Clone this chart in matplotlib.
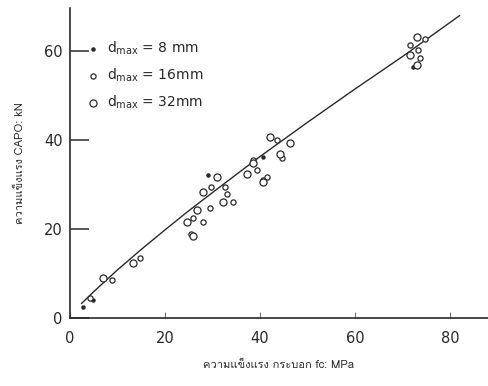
import matplotlib
matplotlib.use("Agg")
import matplotlib.pyplot as plt
from matplotlib import font_manager
from matplotlib.ft2font import FT2Font

# ---- data ----
fc_8 = [2.8, 4.9, 29.1, 40.7, 72.3]
capo_8 = [2.5, 4.0, 32.1, 36.2, 56.5]

fc_16 = [4.2, 8.8, 14.7, 25.5, 26.0, 28.0, 29.5, 29.8, 32.6, 34.4, 33.0, 39.3, 40.7, 43.5, 44.6, 38.6, 41.4, 71.6, 73.3, 73.7, 74.7]
capo_16 = [4.5, 8.5, 13.4, 19.0, 22.4, 21.6, 24.7, 29.5, 29.5, 26.1, 28.0, 33.3, 31.0, 40.0, 35.9, 35.5, 31.8, 61.3, 60.2, 58.4, 62.8]

fc_32 = [7.0, 13.3, 24.6, 25.9, 26.7, 28.0, 30.9, 32.3, 37.2, 38.6, 42.1, 44.2, 40.7, 46.3, 71.6, 73.0, 73.0]
capo_32 = [8.9, 12.3, 21.6, 18.5, 24.3, 28.4, 31.8, 26.1, 32.5, 34.8, 40.7, 37.0, 30.6, 39.3, 59.1, 63.2, 56.9]

curve_fc = [2.5, 5, 10, 15, 20, 25, 30, 40, 50, 60, 70, 82]
curve_capo = [3.3, 5.9, 10.8, 15.4, 19.8, 24.1, 28.2, 36.3, 44.0, 51.5, 58.8, 68.0]

x_ticks = [0, 20, 40, 60, 80]
y_ticks = [0, 20, 40, 60]
x_label = "ความแข็งแรง กระบอก fc: MPa"
y_label = "ความแข็งแรง CAPO: kN"
legend_labels = [r"d$_{\mathrm{max}}$ = 8 mm", r"d$_{\mathrm{max}}$ = 16mm", r"d$_{\mathrm{max}}$ = 32mm"]

# ---- find a font with Thai glyphs ----
thai_family = None
for f in font_manager.fontManager.ttflist:
    try:
        cm = FT2Font(f.fname).get_charmap()
        if 0x0E04 in cm and 0x0E07 in cm:
            thai_family = f.name
            break
    except Exception:
        pass
thai_fams = ([thai_family] if thai_family else []) + ["DejaVu Sans"]

ink = "#2a2a2a"
fig = plt.figure(figsize=(4.88, 3.86), dpi=100)
ax = fig.add_axes([0.143, 0.176, 0.857, 0.803])
ax.set_xlim(0, 88)
ax.set_ylim(0, 69.7)
for s in ["top", "right"]:
    ax.spines[s].set_visible(False)
for s in ["left", "bottom"]:
    ax.spines[s].set_color(ink)
    ax.spines[s].set_linewidth(1.2)

ax.plot(curve_fc, curve_capo, color=ink, lw=1.0)
ax.scatter(fc_8, capo_8, s=5, color=ink, zorder=3)
ax.scatter(fc_16, capo_16, s=14, facecolors="white", edgecolors=ink, linewidths=0.9, zorder=3)
ax.scatter(fc_32, capo_32, s=26, facecolors="white", edgecolors=ink, linewidths=0.9, zorder=3)

ax.set_xticks(x_ticks)
ax.set_yticks(y_ticks)
ax.tick_params(axis="y", direction="in", length=14, width=1.1, color=ink, labelcolor=ink, labelsize=10.5, pad=5)
ax.tick_params(axis="x", direction="in", length=4, width=0.8, color="#777777", labelcolor=ink, labelsize=10.5, pad=9)

ax.set_xlabel(x_label, family=thai_fams, fontsize=8, color=ink, labelpad=10)
ax.set_ylabel(y_label, family=thai_fams, fontsize=8, color=ink, labelpad=14)

h8 = ax.scatter([], [], s=5, color=ink)
h16 = ax.scatter([], [], s=14, facecolors="white", edgecolors=ink, linewidths=0.9)
h32 = ax.scatter([], [], s=26, facecolors="white", edgecolors=ink, linewidths=0.9)
leg = ax.legend([h8, h16, h32], legend_labels, loc="upper left", bbox_to_anchor=(0.01, 0.94),
                frameon=False, fontsize=10, labelspacing=0.7, handletextpad=0.5, handlelength=1.0)
for t in leg.get_texts():
    t.set_color(ink)

fig.savefig("out.png", dpi=100)
